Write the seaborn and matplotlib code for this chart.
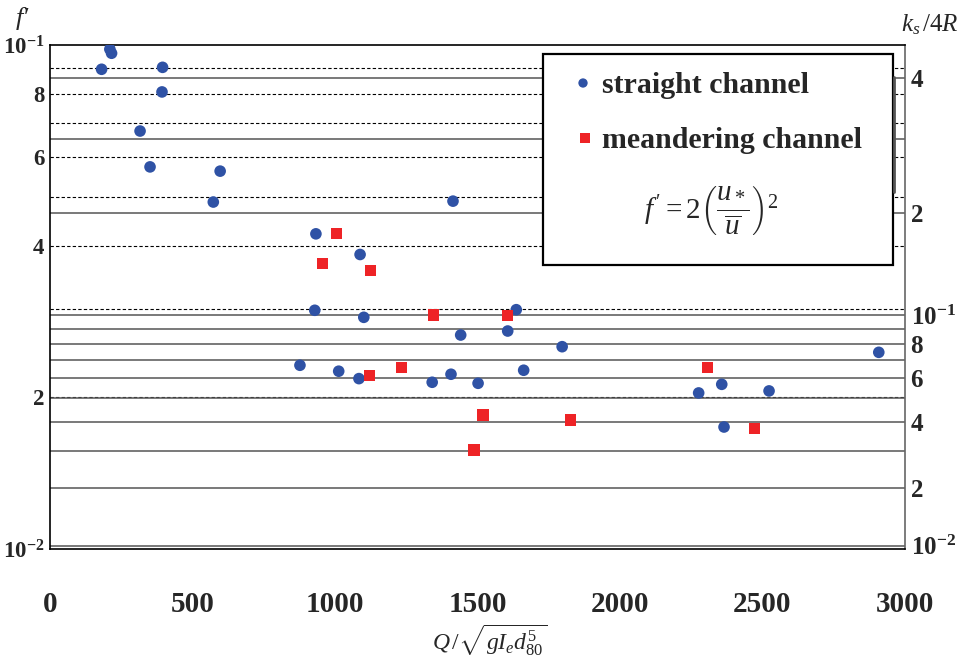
# Friction factor f' against discharge parameter, straight vs meandering channel
import numpy as np
import pandas as pd
import matplotlib
matplotlib.use("Agg")
import matplotlib.pyplot as plt
from matplotlib.patches import Rectangle
from matplotlib.ticker import NullLocator
import seaborn as sns

# Data
straight_q = [210, 216, 181, 395, 393, 316, 351, 597, 573, 1414, 933, 1088, 929, 1101,
              1441, 1606, 1636, 1797, 877, 1013, 1084, 1341, 1407, 1502, 1662, 2276,
              2357, 2365, 2523, 2908]
straight_f = [0.0981, 0.0963, 0.0895, 0.0903, 0.0807, 0.0675, 0.0573, 0.0562, 0.0488,
              0.0490, 0.0422, 0.0384, 0.02976, 0.02882, 0.02658, 0.02707, 0.02984,
              0.02520, 0.02315, 0.02253, 0.02178, 0.02142, 0.02222, 0.02132, 0.02263,
              0.02040, 0.02122, 0.01746, 0.02059, 0.02456]
meander_q = [1005, 957, 1125, 1346, 1604, 1120, 1232, 1519, 1488, 1825, 2306, 2471]
meander_f = [0.0422, 0.0369, 0.0357, 0.02913, 0.02909, 0.02211, 0.02288, 0.01845,
             0.01572, 0.01803, 0.02293, 0.01733]

# left axis ticks
left_ticks = [0.01, 0.02, 0.04, 0.06, 0.08, 0.1]
left_labels = [r"$\mathbf{10^{-2}}$", "2", "4", "6", "8", r"$\mathbf{10^{-1}}$"]
left_minor = [0.02, 0.03, 0.04, 0.05, 0.06, 0.07, 0.08, 0.09]

# right axis ks/4R ticks and lines
right_ticks = [0.01, 0.02, 0.04, 0.06, 0.08, 0.1, 0.2, 0.4]
right_labels = [r"$\mathbf{10^{-2}}$", "2", "4", "6", "8", r"$\mathbf{10^{-1}}$", "2", "4"]
right_lines = [0.01, 0.02, 0.03, 0.04, 0.05, 0.06, 0.07, 0.08, 0.09, 0.1, 0.2, 0.3, 0.4]

x_ticks = [0, 500, 1000, 1500, 2000, 2500, 3000]


def f_from_k(k):
    # log law: sqrt(2/f') = 6.0 + 5.75 log10(R/ks), with k = ks/4R
    k = np.asarray(k, dtype=float)
    return 2.0 / (6.0 + 5.75 * np.log10(1.0 / (4.0 * k))) ** 2


df = pd.concat([
    pd.DataFrame({"q": straight_q, "f": straight_f, "kind": "straight"}),
    pd.DataFrame({"q": meander_q, "f": meander_f, "kind": "meander"}),
])

sns.set_style("white")
plt.rcParams["font.family"] = ["Liberation Serif", "DejaVu Serif"]
plt.rcParams["mathtext.fontset"] = "custom"
plt.rcParams["mathtext.rm"] = "Liberation Serif"
plt.rcParams["mathtext.it"] = "Liberation Serif:italic"
plt.rcParams["mathtext.bf"] = "Liberation Serif:bold"

fig = plt.figure(figsize=(9.68, 6.68), dpi=100)
ax = fig.add_axes([50 / 968, 119 / 668, 855 / 968, 504 / 668])

ax.set_yscale("log")
ax.set_xlim(0, 3000)
ax.set_ylim(0.01, 0.1)

# reference lines
for v in left_minor:
    ax.axhline(v, color="black", lw=0.8, ls=(0, (3, 2)), zorder=1)
for v in f_from_k(right_lines):
    ax.axhline(v, color="#555555", lw=1.1, zorder=1)

blue = "#2f52a5"
red = "#ee2326"
sns.scatterplot(data=df[df.kind == "straight"], x="q", y="f", ax=ax, color=blue,
                marker="o", s=70, edgecolor="none", legend=False, zorder=3)
sns.scatterplot(data=df[df.kind == "meander"], x="q", y="f", ax=ax, color=red,
                marker="s", s=65, edgecolor="none", legend=False, zorder=3)

ax.set_xlabel("")
ax.set_ylabel("")
ax.set_xticks(x_ticks)
ax.set_xticklabels([str(t) for t in x_ticks], fontsize=21, fontweight="bold")
ax.tick_params(axis="x", direction="in", length=5, width=0.8, pad=30)
ax.set_yticks(left_ticks)
ax.set_yticklabels(left_labels, fontsize=16.5, fontweight="bold")
ax.yaxis.set_minor_locator(NullLocator())
ax.tick_params(axis="y", length=0, pad=4)
for sp in ax.spines.values():
    sp.set_color("black")
    sp.set_linewidth(1.2)
ax.spines["right"].set_color("#666666")

# right axis
ax2 = ax.twinx()
ax2.set_yscale("log")
ax2.set_ylim(0.01, 0.1)
ax2.set_yticks(f_from_k(right_ticks))
ax2.set_yticklabels(right_labels, fontsize=18, fontweight="bold")
ax2.yaxis.set_minor_locator(NullLocator())
ax2.tick_params(axis="y", length=0, pad=4)
for sp in ax2.spines.values():
    sp.set_visible(False)

# legend box
ax.add_patch(Rectangle((0.5766, 0.5635), 0.4094, 0.4185, transform=ax.transAxes,
                       facecolor="white", edgecolor="black", lw=1.6, zorder=5))
ax.plot([0.987, 0.987], [0.708, 0.9365], transform=ax.transAxes, color="#555555",
        lw=2, zorder=5)
ax.scatter([0.6234], [0.9246], transform=ax.transAxes, color=blue, marker="o", s=45,
           edgecolor="none", zorder=6)
ax.scatter([0.6257], [0.8155], transform=ax.transAxes, color=red, marker="s", s=45,
           edgecolor="none", zorder=6)
ax.text(0.6456, 0.9206, "straight channel", transform=ax.transAxes, fontsize=21.5,
        fontweight="bold", va="center", ha="left", zorder=6)
ax.text(0.6456, 0.8115, "meandering channel", transform=ax.transAxes, fontsize=21.5,
        fontweight="bold", va="center", ha="left", zorder=6)
ax.text(0.773, 0.672, r"$f\,' = 2\left(\dfrac{u_*}{\overline{u}}\right)^2$",
        transform=ax.transAxes, fontsize=21, va="center", ha="center", zorder=6)

# axis titles
fig.text(0.0227, 0.973, "f\u2032", fontsize=19, fontstyle="italic", ha="center",
         va="center")
fig.text(0.961, 0.963, r"$k_s\,/4R$", fontsize=18, ha="center", va="center")
fig.text(0.506, 0.042, r"$Q\,/\sqrt{gI_e d_{80}^5}$", fontsize=17, ha="center",
         va="center")

fig.savefig("out.png", dpi=100)
